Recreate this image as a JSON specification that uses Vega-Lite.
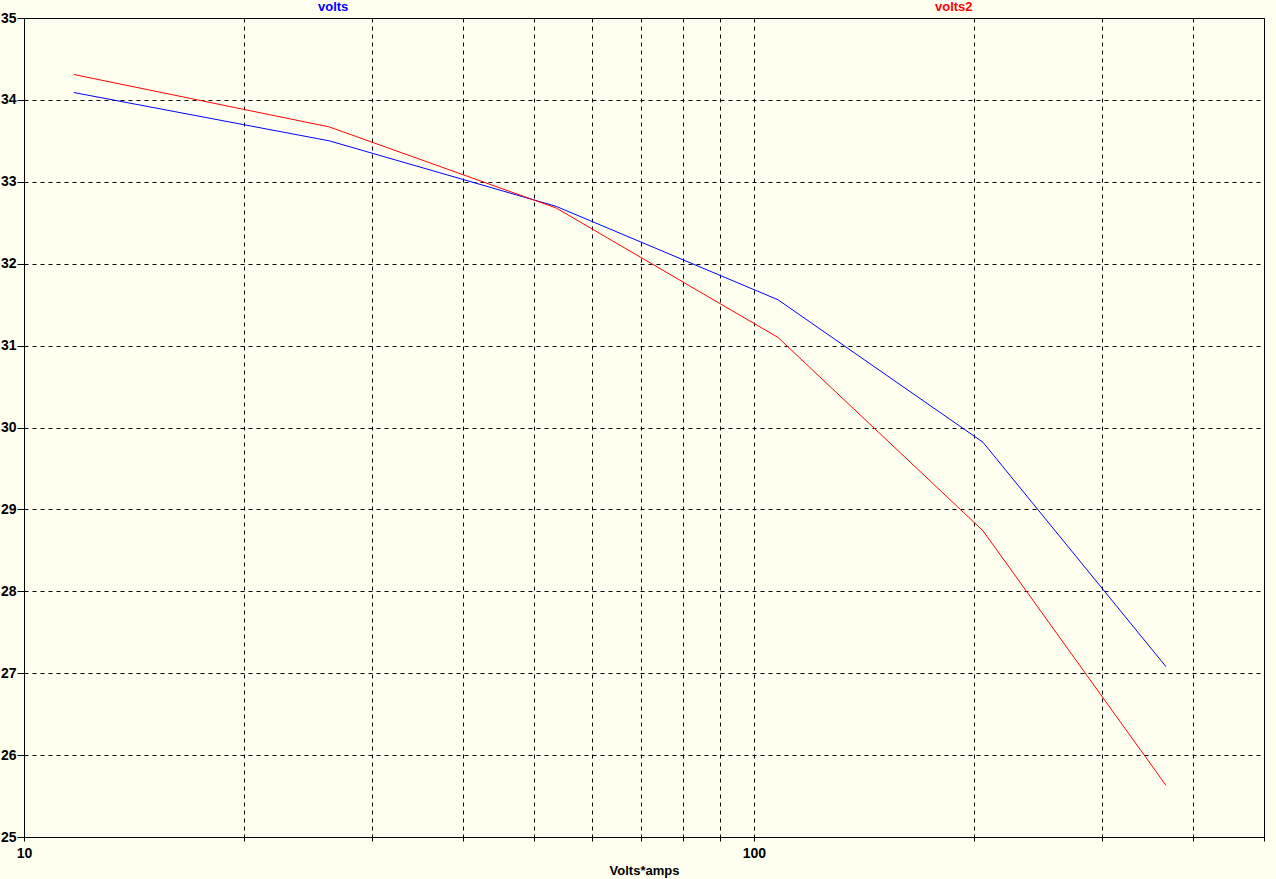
{
  "$schema": "https://vega.github.io/schema/vega-lite/v6.json",
  "width": 1240,
  "height": 819,
  "autosize": {"type": "none"},
  "padding": {"left": 24, "top": 18, "right": 12, "bottom": 42},
  "background": "#FFFFF0",
  "config": {
    "view": {"stroke": "black", "strokeWidth": 1, "fill": "#FFFFF0"},
    "font": "Liberation Sans",
    "axis": {
      "domainColor": "black",
      "tickColor": "black",
      "gridColor": "black",
      "gridDash": [4, 4],
      "gridOpacity": 1,
      "labelColor": "black",
      "labelFont": "Liberation Sans",
      "labelFontWeight": "bold",
      "labelFontSize": 14,
      "titleFont": "Liberation Sans",
      "titleFontWeight": "bold",
      "titleFontSize": 13,
      "titleColor": "black"
    }
  },
  "data": {
    "values": [
      {"va": 11.7, "v": 34.09, "series": "volts"},
      {"va": 26.2, "v": 33.50, "series": "volts"},
      {"va": 53.6, "v": 32.70, "series": "volts"},
      {"va": 107.9, "v": 31.56, "series": "volts"},
      {"va": 206, "v": 29.82, "series": "volts"},
      {"va": 367, "v": 27.08, "series": "volts"},
      {"va": 11.7, "v": 34.31, "series": "volts2"},
      {"va": 26.2, "v": 33.67, "series": "volts2"},
      {"va": 53.6, "v": 32.68, "series": "volts2"},
      {"va": 107.9, "v": 31.10, "series": "volts2"},
      {"va": 206, "v": 28.74, "series": "volts2"},
      {"va": 367, "v": 25.63, "series": "volts2"}
    ]
  },
  "mark": {"type": "line", "strokeWidth": 1, "clip": true},
  "encoding": {
    "x": {
      "field": "va",
      "type": "quantitative",
      "scale": {"type": "log", "domain": [10, 500], "nice": false},
      "axis": {
        "title": "Volts*amps",
        "values": [10, 20, 30, 40, 50, 60, 70, 80, 90, 100, 200, 300, 400, 500],
        "labelExpr": "datum.value == 10 || datum.value == 100 ? datum.value : ''",
        "tickSize": 4,
        "labelPadding": 5,
        "titlePadding": 4,
        "labelFlush": false,
        "labelOverlap": false,
        "gridDash": [4, 4]
      }
    },
    "y": {
      "field": "v",
      "type": "quantitative",
      "scale": {"domain": [25, 35], "nice": false, "zero": false},
      "axis": {
        "title": null,
        "values": [25, 26, 27, 28, 29, 30, 31, 32, 33, 34, 35],
        "tickSize": 7,
        "labelPadding": 1,
        "labelFlush": false,
        "labelOverlap": false
      }
    },
    "color": {
      "field": "series",
      "type": "nominal",
      "scale": {"domain": ["volts", "volts2"], "range": ["#0000FF", "#FF0000"]},
      "legend": {
        "orient": "none",
        "legendX": 281,
        "legendY": -18,
        "direction": "horizontal",
        "title": null,
        "padding": 0,
        "symbolSize": 0,
        "symbolStrokeWidth": 0,
        "symbolOpacity": 0,
        "labelOffset": 0,
        "columnPadding": 573,
        "labelFont": "Liberation Sans",
        "labelFontSize": 13,
        "labelFontWeight": "bold",
        "encode": {
          "labels": {"update": {"fill": {"signal": "scale('color', datum.value)"}}}
        }
      }
    }
  }
}
